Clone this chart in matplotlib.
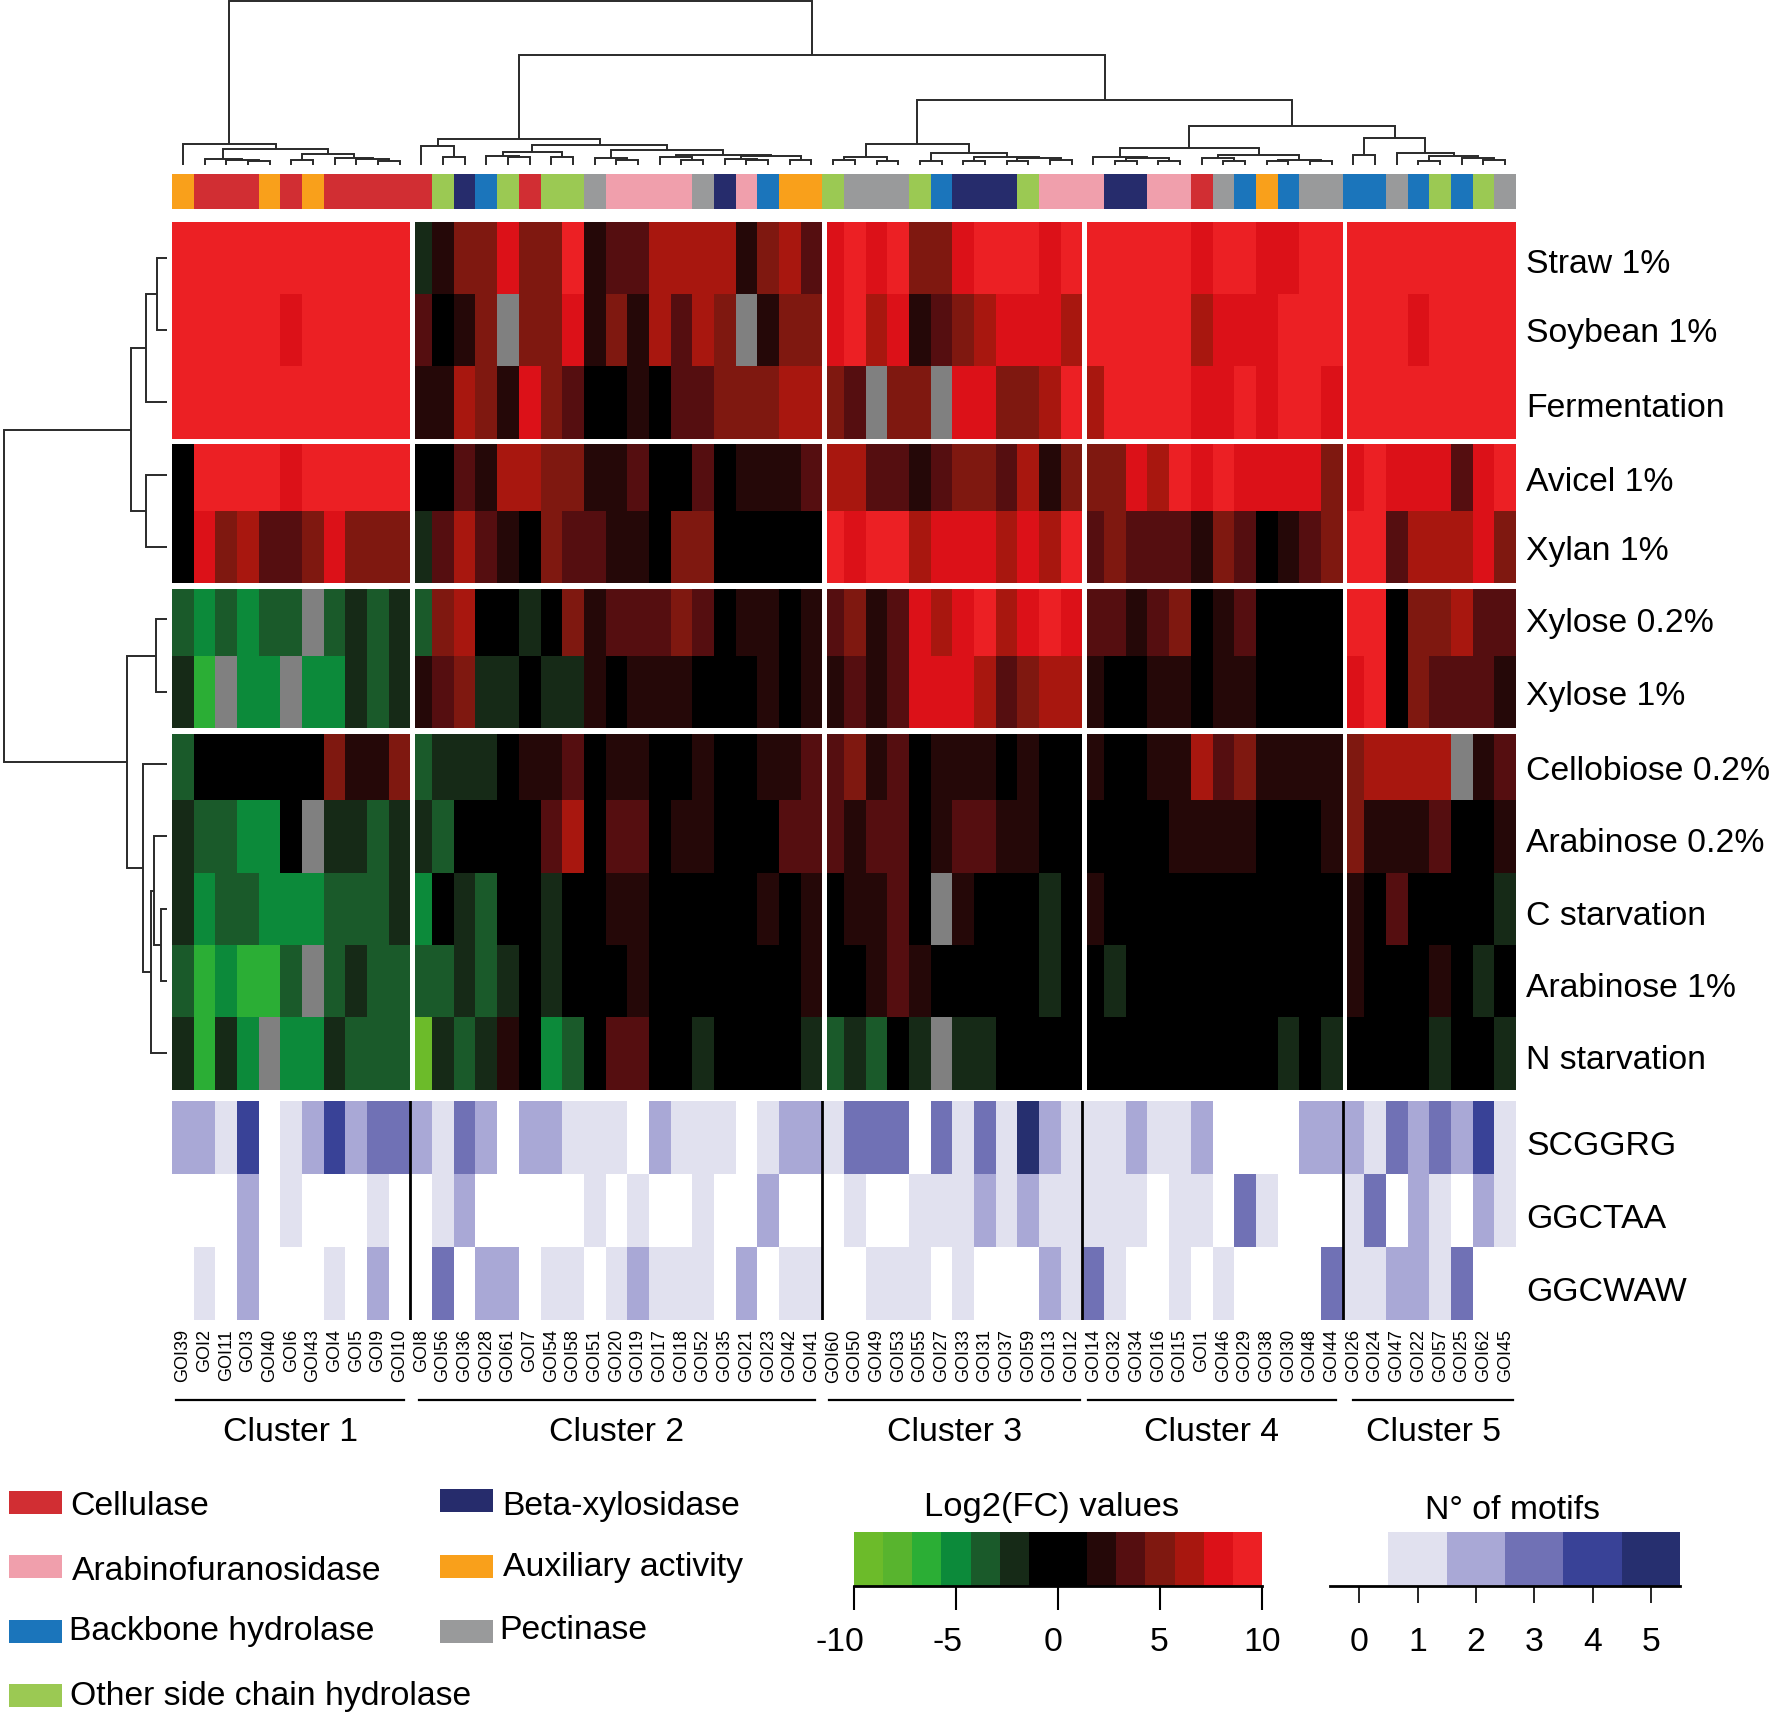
"""
 Title:         Clustered expression heatmap of the GOI genes
 Description:   Log2(FC) heatmap with dendrograms, enzyme classes and motif counts
"""

# Libraries
import numpy as np
import matplotlib
matplotlib.use("Agg")
import matplotlib.pyplot as plt
from matplotlib.colors import BoundaryNorm, ListedColormap
from matplotlib.patches import Rectangle
from matplotlib.transforms import ScaledTranslation

plt.rcParams["font.family"] = ["Liberation Sans", "DejaVu Sans"]

N = float("nan")

# Genes (column order) and conditions (row order)
GENES = ["GOI39", "GOI2", "GOI11", "GOI3", "GOI40", "GOI6", "GOI43", "GOI4", "GOI5", "GOI9", "GOI10",
         "GOI8", "GOI56", "GOI36", "GOI28", "GOI61", "GOI7", "GOI54", "GOI58", "GOI51", "GOI20", "GOI19",
         "GOI17", "GOI18", "GOI52", "GOI35", "GOI21", "GOI23", "GOI42", "GOI41",
         "GOI60", "GOI50", "GOI49", "GOI53", "GOI55", "GOI27", "GOI33", "GOI31", "GOI37", "GOI59", "GOI13", "GOI12",
         "GOI14", "GOI32", "GOI34", "GOI16", "GOI15", "GOI1", "GOI46", "GOI29", "GOI38", "GOI30", "GOI48", "GOI44",
         "GOI26", "GOI24", "GOI47", "GOI22", "GOI57", "GOI25", "GOI62", "GOI45"]
CONDITIONS = ["Straw 1%", "Soybean 1%", "Fermentation", "Avicel 1%", "Xylan 1%", "Xylose 0.2%", "Xylose 1%",
              "Cellobiose 0.2%", "Arabinose 0.2%", "C starvation", "Arabinose 1%", "N starvation"]
MOTIFS = ["SCGGRG", "GGCTAA", "GGCWAW"]
CLUSTERS = ["Cluster 1", "Cluster 2", "Cluster 3", "Cluster 4", "Cluster 5"]
CLUSTER_SIZES = [11, 19, 12, 12, 8]

# Log2(FC) values
STRAW = [9, 9, 9, 9, 9, 9, 9, 9, 9, 9, 9,
         -2, 2, 5, 5, 8, 5, 5, 9, 2, 3, 3, 6, 6, 6, 6, 2, 5, 6, 3,
         8, 9, 8, 9, 5, 5, 8, 9, 9, 9, 8, 9,
         9, 9, 9, 9, 9, 8, 9, 9, 8, 8, 9, 9,
         9, 9, 9, 9, 9, 9, 9, 9]
SOYBEAN = [9, 9, 9, 9, 9, 8, 9, 9, 9, 9, 9,
           3, 0, 2, 5, N, 5, 5, 8, 2, 5, 2, 6, 3, 6, 5, N, 2, 5, 5,
           8, 9, 6, 8, 2, 3, 5, 6, 8, 8, 8, 6,
           9, 9, 9, 9, 9, 6, 8, 8, 8, 9, 9, 9,
           9, 9, 9, 8, 9, 9, 9, 9]
FERMENTATION = [9, 9, 9, 9, 9, 9, 9, 9, 9, 9, 9,
                2, 2, 6, 5, 2, 8, 5, 3, 0, 0, 2, 0, 3, 3, 5, 5, 5, 6, 6,
                5, 3, N, 5, 5, N, 8, 8, 5, 5, 6, 9,
                6, 9, 9, 9, 9, 8, 8, 9, 8, 9, 9, 8,
                9, 9, 9, 9, 9, 9, 9, 9]
AVICEL = [0, 9, 9, 9, 9, 8, 9, 9, 9, 9, 9,
          0, 0, 3, 2, 6, 6, 5, 5, 2, 2, 3, 0, 0, 3, 0, 2, 2, 2, 3,
          6, 6, 3, 3, 2, 3, 5, 5, 3, 6, 2, 5,
          5, 5, 8, 6, 9, 8, 9, 8, 8, 8, 8, 5,
          8, 9, 8, 8, 8, 3, 8, 9]
XYLAN = [0, 8, 5, 6, 3, 3, 5, 8, 5, 5, 5,
         -2, 3, 6, 3, 2, 0, 5, 3, 3, 2, 2, 0, 5, 5, 0, 0, 0, 0, 0,
         9, 8, 9, 9, 6, 8, 8, 8, 6, 8, 6, 9,
         3, 5, 3, 3, 3, 2, 5, 3, 0, 2, 3, 5,
         9, 9, 3, 6, 6, 6, 8, 5]
XYLOSE_02 = [-3, -5, -3, -5, -3, -3, N, -3, -2, -3, -2,
             -3, 5, 6, 0, 0, -2, 0, 5, 2, 3, 3, 3, 5, 3, 0, 2, 2, 0, 2,
             3, 5, 2, 3, 8, 6, 8, 9, 6, 8, 9, 8,
             3, 3, 2, 3, 5, 0, 2, 3, 0, 0, 0, 0,
             9, 9, 0, 5, 5, 6, 3, 3]
XYLOSE_1 = [-2, -6, N, -5, -5, N, -5, -5, -2, -3, -2,
            2, 3, 5, -2, -2, 0, -2, -2, 2, 0, 2, 2, 2, 0, 0, 0, 2, 0, 2,
            2, 3, 2, 3, 8, 8, 8, 6, 3, 5, 6, 6,
            2, 0, 0, 2, 2, 0, 2, 2, 0, 0, 0, 0,
            8, 9, 0, 5, 3, 3, 3, 2]
CELLOBIOSE = [-3, 0, 0, 0, 0, 0, 0, 5, 2, 2, 5,
              -3, -2, -2, -2, 0, 2, 2, 3, 0, 2, 2, 0, 0, 2, 0, 0, 2, 2, 3,
              3, 5, 2, 3, 0, 2, 2, 2, 0, 2, 0, 0,
              2, 0, 0, 2, 2, 6, 3, 5, 2, 2, 2, 2,
              5, 6, 6, 6, 6, N, 2, 3]
ARABINOSE_02 = [-2, -3, -3, -5, -5, 0, N, -2, -2, -3, -2,
                -2, -3, 0, 0, 0, 0, 3, 6, 0, 3, 3, 0, 2, 2, 0, 0, 0, 3, 3,
                3, 2, 3, 3, 0, 2, 3, 3, 2, 2, 0, 0,
                0, 0, 0, 0, 2, 2, 2, 2, 0, 0, 0, 2,
                5, 2, 2, 2, 3, 0, 0, 2]
C_STARVATION = [-2, -5, -3, -3, -5, -5, -5, -3, -3, -3, -2,
                -5, 0, -2, -3, 0, 0, -2, 0, 0, 2, 2, 0, 0, 0, 0, 0, 2, 0, 2,
                0, 2, 2, 3, 0, N, 2, 0, 0, 0, -2, 0,
                2, 0, 0, 0, 0, 0, 0, 0, 0, 0, 0, 0,
                2, 0, 3, 0, 0, 0, 0, -2]
ARABINOSE_1 = [-3, -6, -5, -6, -6, -3, N, -3, -2, -3, -3,
               -3, -3, -2, -3, -2, 0, -2, 0, 0, 0, 2, 0, 0, 0, 0, 0, 0, 0, 2,
               0, 0, 2, 3, 2, 0, 0, 0, 0, 0, -2, 0,
               0, -2, 0, 0, 0, 0, 0, 0, 0, 0, 0, 0,
               2, 0, 0, 0, 2, 0, -2, 0]
N_STARVATION = [-2, -6, -2, -5, N, -5, -5, -2, -3, -3, -3,
                -9, -2, -3, -2, 2, 0, -5, -3, 0, 3, 3, 0, 0, -2, 0, 0, 0, 0, -2,
                -3, -2, -3, 0, -2, N, -2, -2, 0, 0, 0, 0,
                0, 0, 0, 0, 0, 0, 0, 0, 0, -2, 0, -2,
                0, 0, 0, 0, -2, 0, 0, -2]

# Number of motifs per gene
SCGGRG = [2, 2, 1, 4, 0, 1, 2, 4, 2, 3, 3,
          2, 1, 3, 2, 0, 2, 2, 1, 1, 1, 0, 2, 1, 1, 1, 0, 1, 2, 2,
          1, 3, 3, 3, 0, 3, 1, 3, 1, 5, 2, 1,
          1, 1, 2, 1, 1, 2, 0, 0, 0, 0, 2, 2,
          2, 1, 3, 2, 3, 2, 4, 1]
GGCTAA = [0, 0, 0, 2, 0, 1, 0, 0, 0, 1, 0,
          0, 1, 2, 0, 0, 0, 0, 0, 1, 0, 1, 0, 0, 1, 0, 0, 2, 0, 0,
          0, 1, 0, 0, 1, 1, 1, 2, 1, 2, 1, 1,
          1, 1, 1, 0, 1, 1, 0, 3, 1, 0, 0, 0,
          1, 3, 0, 2, 1, 0, 2, 1]
GGCWAW = [0, 1, 0, 2, 0, 0, 0, 1, 0, 2, 0,
          0, 3, 0, 2, 2, 0, 1, 1, 0, 1, 2, 1, 1, 1, 0, 2, 0, 1, 1,
          0, 0, 1, 1, 1, 0, 1, 0, 0, 0, 2, 1,
          3, 1, 0, 0, 1, 0, 1, 0, 0, 0, 0, 3,
          1, 1, 2, 2, 1, 3, 0, 0]

# Enzyme class of each gene, one letter per column
GENE_CLASSES = list("ACCCACACCCCCOXHOCOOPFFFFPXFHAAOPPPOHXXXOFFFXXFFCPHAHPPHHPHOHOP")
CLASS_KEYS = ["C", "F", "H", "O", "X", "A", "P"]
CLASS_NAMES = ["Cellulase", "Arabinofuranosidase", "Backbone hydrolase", "Other side chain hydrolase",
               "Beta-xylosidase", "Auxiliary activity", "Pectinase"]
CLASS_COLOURS = ["#D12E33", "#F09FAC", "#1B75BB", "#9BC953", "#262C6C", "#F9A01B", "#999A9B"]

# Dendrograms as nested (height, left, right), leaves are column or row indices
TREE_C1 = (21, 0, (16, (6, 1, (5.3, 2, (3.7, 3, 4))),
                   (10.7, (5, 5, 6), (6.7, 7, (5.7, 8, (4.3, 9, 10))))))
TREE_C2 = (26, (19, 11, (7.7, 12, 13)),
           (20, (13.3, (9.3, 14, (7.7, 15, 16)), (8.3, 17, 18)),
            (15, (7, 19, (5, 20, 21)),
             (10.3, (7.7, 22, (5, 23, 24)), (9.3, (6, 25, (5, 26, 27)), (5, 28, 29))))))
TREE_C3 = (20.7, (8.3, (5, 30, 31), (4.3, 32, 33)),
           (12, (4.3, 34, 35), (7.7, (4.3, 36, 37), (6.7, (4.3, 38, 39), (5.3, 40, 41)))))
TREE_C4 = (16.7, (7.7, 42, (6.7, (4.3, 43, 44), (4.3, 45, 46))),
           (10, (6.7, 47, (3.7, 48, 49)), (5.3, (4.3, 50, 51), (4.3, 52, 53))))
TREE_C5 = (26.7, (10.3, 54, 55), (11.7, 56, (9.3, (3.7, 57, 58), (7, 59, (5.3, 60, 61)))))
COLUMN_TREE = (164, TREE_C1, (110, TREE_C2, (65, TREE_C3, (39, TREE_C4, TREE_C5))))
ROW_TREE = (163.3,
            (36, (20.7, (10, 0, 1), 2), (20.7, 3, 4)),
            (39.7, (10.7, 5, 6), (24.3, 7, (16.3, (12.7, 8, (5.7, 9, 10)), 11))))

# Colour scale for the Log2(FC) values
FC_TICKS = [-10, -5, 0, 5, 10]
FC_BINS = 14
FC_COLOURS = ["#6CBB2A", "#58B42E", "#2BAE35", "#0C8A3A", "#1A5A2A", "#162A17", "#000000",
              "#000000", "#250808", "#550E10", "#7F1810", "#A8170F", "#DC1118", "#EC2024"]
MOTIF_COLOURS = ["#FFFFFF", "#E1E1EF", "#A9A8D6", "#7071B5", "#394297", "#262F6F"]
MOTIF_TICKS = [0, 1, 2, 3, 4, 5]
MISSING_COLOUR = "#808080"
LINE_COLOUR = "#2A2A2A"

# Figure layout in pixels
FIG_W, FIG_H = 1772, 1715
HEAT_L, HEAT_R = 172, 1516
FONT_SIZE = 24.3


# Adds an axes from a pixel box measured from the top left
def add_axes_px(figure, left, top, right, bottom):
    return figure.add_axes([left / FIG_W, 1 - bottom / FIG_H, (right - left) / FIG_W, (bottom - top) / FIG_H])


# Nudges a tick label by some pixels
def nudge(label, figure, dx=0, dy=0):
    offset = ScaledTranslation(dx / 100, -dy / 100, figure.dpi_scale_trans)
    label.set_transform(label.get_transform() + offset)


# Draws a tree recursively and returns (leaf position, height) of the node
def draw_tree(axis, node, horizontal):
    if not isinstance(node, tuple):
        return node + 0.5, 0
    height, left, right = node
    pos_l, h_l = draw_tree(axis, left, horizontal)
    pos_r, h_r = draw_tree(axis, right, horizontal)
    pos = [pos_l, pos_l, pos_r, pos_r]
    hgt = [h_l, height, height, h_r]
    if horizontal:
        axis.plot(pos, hgt, color=LINE_COLOUR, linewidth=1.4, solid_joinstyle="miter", solid_capstyle="butt")
    else:
        axis.plot(hgt, pos, color=LINE_COLOUR, linewidth=1.4, solid_joinstyle="miter", solid_capstyle="butt")
    return (pos_l + pos_r) / 2, height


# Set up
figure = plt.figure(figsize=(FIG_W / 100, FIG_H / 100), dpi=100)
cluster_edges = np.cumsum(CLUSTER_SIZES)[:-1]

fc_cmap = ListedColormap(FC_COLOURS)
fc_cmap.set_bad(MISSING_COLOUR)
fc_bounds = np.linspace(FC_TICKS[0], FC_TICKS[-1], FC_BINS + 1)
fc_norm = BoundaryNorm(fc_bounds, FC_BINS)
motif_cmap = ListedColormap(MOTIF_COLOURS)
motif_bounds = np.arange(len(MOTIF_COLOURS) + 1) - 0.5
motif_norm = BoundaryNorm(motif_bounds, len(MOTIF_COLOURS))

# Top dendrogram
axis = add_axes_px(figure, HEAT_L, 0, HEAT_R, 166)
draw_tree(axis, COLUMN_TREE, True)
axis.set_xlim(0, len(GENES))
axis.set_ylim(0, 166)
axis.axis("off")

# Left dendrogram
axis = add_axes_px(figure, 0, 222.6, 167, 1090.5)
draw_tree(axis, ROW_TREE, False)
axis.set_xlim(167, 0)
axis.set_ylim(len(CONDITIONS), 0)
axis.axis("off")

# Enzyme class strip
axis = add_axes_px(figure, HEAT_L, 175, HEAT_R, 210)
class_index = [[CLASS_KEYS.index(key) for key in GENE_CLASSES]]
axis.pcolormesh(np.arange(len(GENES) + 1), [0, 1], class_index, cmap=ListedColormap(CLASS_COLOURS),
                vmin=-0.5, vmax=len(CLASS_KEYS) - 0.5)
axis.axis("off")

# Expression heatmap
heat_rows = [STRAW, SOYBEAN, FERMENTATION, AVICEL, XYLAN, XYLOSE_02, XYLOSE_1, CELLOBIOSE,
             ARABINOSE_02, C_STARVATION, ARABINOSE_1, N_STARVATION]
heat = np.ma.masked_invalid(np.array(heat_rows, dtype=float))
axis = add_axes_px(figure, HEAT_L, 222.6, HEAT_R, 1090.5)
axis.pcolormesh(np.arange(len(GENES) + 1), np.arange(len(CONDITIONS) + 1), heat, cmap=fc_cmap, norm=fc_norm)
axis.set_xlim(0, len(GENES))
axis.set_ylim(len(CONDITIONS), 0)
for edge in cluster_edges:
    axis.axvspan(edge, edge + 0.2, color="white", linewidth=0)
for edge in [3, 5, 7]:
    axis.axhspan(edge, edge + 0.08, color="white", linewidth=0)
axis.set_xticks([])
axis.yaxis.tick_right()
axis.set_yticks(np.arange(len(CONDITIONS)) + 0.5, CONDITIONS, fontsize=FONT_SIZE)
axis.tick_params(axis="y", length=0, pad=7.5)
row_shifts = [2, -1, 2, 3, 0, 0, 0, 3, 3, 3, 3, 3]
for label, shift in zip(axis.get_yticklabels(), row_shifts):
    nudge(label, figure, dy=shift)
for side in axis.spines.values():
    side.set_visible(False)

# Motif heatmap
axis = add_axes_px(figure, HEAT_L, 1102, HEAT_R, 1321)
axis.pcolormesh(np.arange(len(GENES) + 1), np.arange(len(MOTIFS) + 1), [SCGGRG, GGCTAA, GGCWAW],
                cmap=motif_cmap, norm=motif_norm)
axis.set_xlim(0, len(GENES))
axis.set_ylim(len(MOTIFS), 0)
for edge in cluster_edges:
    axis.axvline(edge, color="black", linewidth=2)
axis.set_xticks(np.arange(len(GENES)) + 0.5, GENES, fontsize=13, rotation=90)
axis.yaxis.tick_right()
axis.set_yticks(np.arange(len(MOTIFS)) + 0.5, MOTIFS, fontsize=FONT_SIZE)
axis.tick_params(axis="y", length=0, pad=7.5)
axis.tick_params(axis="x", length=0, pad=6)
for label in axis.get_yticklabels():
    nudge(label, figure, dy=5)
for side in axis.spines.values():
    side.set_visible(False)

# Cluster brackets and names
axis = add_axes_px(figure, HEAT_L, 1395, HEAT_R, 1450)
axis.set_xlim(0, len(GENES))
axis.set_ylim(55, 0)
axis.axis("off")
inset_l = [0.2, 0.41, 0.3, 0.25, 0.5]
inset_r = [0.3, 0.36, 0.1, 0.3, 0.15]
start = 0
for i, name in enumerate(CLUSTERS):
    left = start + inset_l[i]
    right = start + CLUSTER_SIZES[i] - inset_r[i]
    axis.plot([left, right], [6, 6], color="black", linewidth=1.6)
    axis.text((left + right) / 2, 38, name, fontsize=FONT_SIZE, ha="center", va="center")
    start += CLUSTER_SIZES[i]

# Enzyme class legend
axis = add_axes_px(figure, 0, 0, FIG_W, FIG_H)
axis.patch.set_alpha(0)
axis.set_xlim(0, FIG_W)
axis.set_ylim(FIG_H, 0)
axis.axis("off")
legend_x = [9, 9, 9, 9, 440, 440, 440]
legend_y = [1492, 1556, 1621, 1685, 1490, 1556, 1621]
legend_text_x = [70, 72, 69, 70, 502, 503, 499]
legend_text_y = [1507, 1572, 1632, 1697, 1507, 1568, 1631]
for i, name in enumerate(CLASS_NAMES):
    axis.add_patch(Rectangle((legend_x[i], legend_y[i]), 53, 23, color=CLASS_COLOURS[i], linewidth=0))
    axis.text(legend_text_x[i], legend_text_y[i], name, fontsize=FONT_SIZE, ha="left", va="center")

# Log2(FC) colour key
axis = add_axes_px(figure, 854, 1533, 1262, 1587)
axis.pcolormesh(fc_bounds, [0, 1], [(fc_bounds[:-1] + fc_bounds[1:]) / 2], cmap=fc_cmap, norm=fc_norm)
axis.set_title("Log2(FC) values", fontsize=24.8, pad=12, x=0.483)
axis.set_xticks(FC_TICKS, [str(tick) for tick in FC_TICKS], fontsize=FONT_SIZE)
axis.set_yticks([])
axis.tick_params(axis="x", length=17, width=1.5, pad=11.5)
label_shifts = [-14, -8, -5, -1, 0]
for label, shift in zip(axis.get_xticklabels(), label_shifts):
    nudge(label, figure, dx=shift)
for name, side in axis.spines.items():
    side.set_visible(name == "bottom")
    side.set_linewidth(2)

# Motif colour key
axis = add_axes_px(figure, 1330, 1533, 1680, 1587)
axis.pcolormesh(motif_bounds, [0, 1], [MOTIF_TICKS], cmap=motif_cmap, norm=motif_norm)
axis.set_title("N\u00b0 of motifs", fontsize=FONT_SIZE, pad=10, x=0.522)
axis.set_xticks(MOTIF_TICKS, [str(tick) for tick in MOTIF_TICKS], fontsize=FONT_SIZE)
axis.set_yticks([])
axis.tick_params(axis="x", length=12, width=1.2, pad=17)
for name, side in axis.spines.items():
    side.set_visible(name == "bottom")
    side.set_linewidth(2)

# Save results
figure.savefig("out.png", dpi=100)
